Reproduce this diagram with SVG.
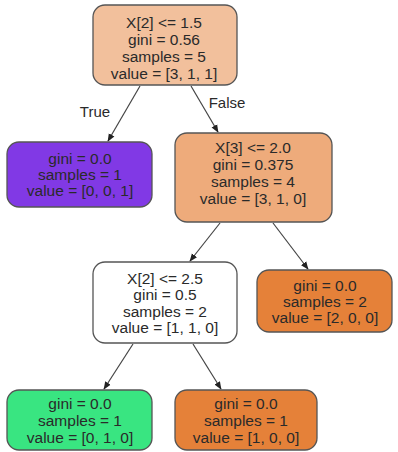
<svg xmlns="http://www.w3.org/2000/svg" width="398" height="452" viewBox="0 0 398 452">
  <defs>
    <marker id="arrow" viewBox="0 0 10 10" refX="9" refY="5" markerWidth="8" markerHeight="8" orient="auto" markerUnits="userSpaceOnUse">
      <path d="M0,1 L10,5 L0,9 Z" fill="#222"/>
    </marker>
    <style>
      .box { stroke: #555; stroke-width: 1.3; }
      .t { font-family: "Liberation Sans", Arial, sans-serif; font-size: 15.5px; fill: #2a2a2a; text-anchor: middle; }
      .edge { stroke: #444; stroke-width: 1.2; fill: none; marker-end: url(#arrow); }
      .lbl { font-family: "Liberation Sans", Arial, sans-serif; font-size: 15px; fill: #2a2a2a; text-anchor: middle; }
    </style>
  </defs>
  <rect width="398" height="452" fill="#ffffff"/>

  <!-- connectors -->
  <g id="edges">
    <line class="edge" x1="140" y1="86" x2="108" y2="141"/>
    <line class="edge" x1="191" y1="86" x2="218" y2="132"/>
    <line class="edge" x1="220" y1="223" x2="190" y2="261"/>
    <line class="edge" x1="273" y1="223" x2="308" y2="269"/>
    <line class="edge" x1="133" y1="344" x2="104" y2="389"/>
    <line class="edge" x1="193" y1="344" x2="221" y2="389"/>
    <text class="lbl" x="95" y="117">True</text>
    <text class="lbl" x="227" y="108">False</text>
  </g>

  <!-- root split -->
  <g id="node0">
    <rect class="box" x="93" y="5" width="144" height="80" rx="12" fill="#f2c09c"/>
    <text class="t" x="164" y="28">X[2] &lt;= 1.5</text>
    <text class="t" x="164" y="45">gini = 0.56</text>
    <text class="t" x="164" y="62">samples = 5</text>
    <text class="t" x="164" y="79">value = [3, 1, 1]</text>
  </g>

  <g id="node1">
    <rect class="box" x="7" y="142" width="145" height="65" rx="12" fill="#8139e5"/>
    <text class="t" x="80" y="164">gini = 0.0</text>
    <text class="t" x="80" y="180">samples = 1</text>
    <text class="t" x="80" y="196">value = [0, 0, 1]</text>
  </g>

  <g id="node2">
    <rect class="box" x="175" y="133" width="157" height="89" rx="12" fill="#eeab7b"/>
    <text class="t" x="253" y="153">X[3] &lt;= 2.0</text>
    <text class="t" x="253" y="170">gini = 0.375</text>
    <text class="t" x="253" y="187">samples = 4</text>
    <text class="t" x="253" y="204">value = [3, 1, 0]</text>
  </g>

  <g id="node3">
    <rect class="box" x="93" y="262" width="144" height="81" rx="12" fill="#ffffff"/>
    <text class="t" x="165" y="284">X[2] &lt;= 2.5</text>
    <text class="t" x="165" y="300">gini = 0.5</text>
    <text class="t" x="165" y="317">samples = 2</text>
    <text class="t" x="165" y="333">value = [1, 1, 0]</text>
  </g>

  <g id="node4">
    <rect class="box" x="257" y="270" width="135" height="62" rx="12" fill="#e58139"/>
    <text class="t" x="325" y="291">gini = 0.0</text>
    <text class="t" x="325" y="307">samples = 2</text>
    <text class="t" x="325" y="323">value = [2, 0, 0]</text>
  </g>

  <g id="node5">
    <rect class="box" x="7" y="390" width="145" height="60" rx="12" fill="#39e581"/>
    <text class="t" x="80" y="409">gini = 0.0</text>
    <text class="t" x="80" y="426">samples = 1</text>
    <text class="t" x="80" y="443">value = [0, 1, 0]</text>
  </g>

  <g id="node6">
    <rect class="box" x="175" y="390" width="142" height="60" rx="12" fill="#e58139"/>
    <text class="t" x="246" y="409">gini = 0.0</text>
    <text class="t" x="246" y="426">samples = 1</text>
    <text class="t" x="246" y="443">value = [1, 0, 0]</text>
  </g>
</svg>
